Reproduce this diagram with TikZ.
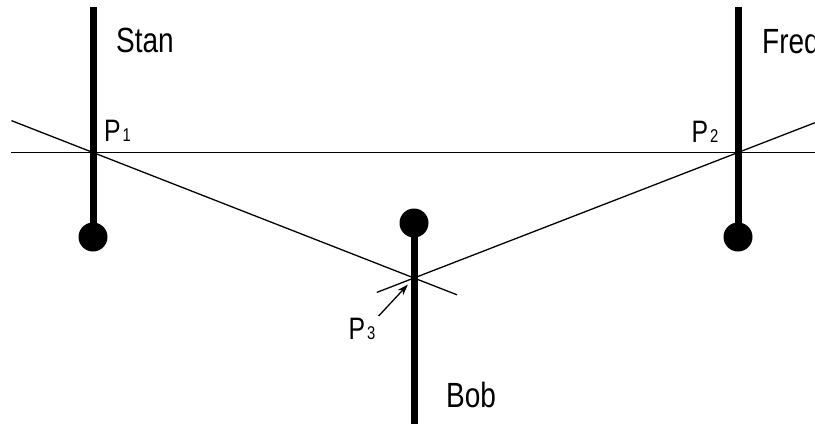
\documentclass[tikz,border=0pt]{standalone}
\usepackage{fontspec}
\setmainfont{Liberation Sans}[FakeStretch=0.8]
\usepackage{tikz}
\usetikzlibrary{calc,arrows.meta}

\newcommand{\plab}[1]{P\hspace{2pt}{\fontsize{18.5}{20}\selectfont #1}}

\begin{document}
\begin{tikzpicture}[x=1pt,y=-1pt,
      who/.style={font=\fontsize{35}{40}\selectfont,anchor=base west,inner sep=0pt},
      ptxt/.style={font=\fontsize{31}{34}\selectfont,anchor=base west,inner sep=0pt},
      pole/.style={line width=7pt},
      sight/.style={line width=1.3pt},
      ball/.style={circle,fill=black,minimum size=29pt,inner sep=0pt},
      >={Stealth[length=11pt,width=7.5pt]}]
      \useasboundingbox (0,0) rectangle (815,424);
      % crossing points
      \coordinate (P1) at (93,152.5);
      \coordinate (P2) at (738,152.5);
      \coordinate (P3) at (414,278);
      % poles
      \coordinate (stantop) at (93,7);
      \coordinate (fredtop) at (738,7);
      \coordinate (bobfoot) at (414,424);
      \node[ball] (stanball) at (93,237) {};
      \node[ball] (fredball) at (738,237) {};
      \node[ball] (bobball) at (414,223) {};
      \draw[pole] (stantop) -- (stanball.center);
      \draw[pole] (fredtop) -- (fredball.center);
      \draw[pole] (bobball.center) -- (bobfoot);
      % lines of sight
      \draw[sight] ($(P1)!-0.127!(P2)$) coordinate (hl) -- ($(P2)!-0.119!(P1)$) coordinate (hr);
      \draw[sight] ($(P1)!-0.254!(P3)$) -- ($(P1)!1.134!(P3)$);
      \draw[sight] ($(P2)!-0.238!(P3)$) -- ($(P2)!1.115!(P3)$);
      % labels
      \node[who] (stan) at (116,52) {Stan};
      \node[who] (fred) at (762,53) {Fred};
      \node[who] (bob) at (446,407.5) {Bob};
      \node[ptxt] (p1lab) at (104,141.7) {\plab{1}};
      \node[ptxt] (p2lab) at (691.5,142.5) {\plab{2}};
      \node[ptxt] (p3lab) at (348.5,339.5) {\plab{3}};
      \draw[sight,->,shorten >=9pt] ([shift={(3,-2)}]p3lab.north east) -- (P3);
    \end{tikzpicture}
\end{document}
